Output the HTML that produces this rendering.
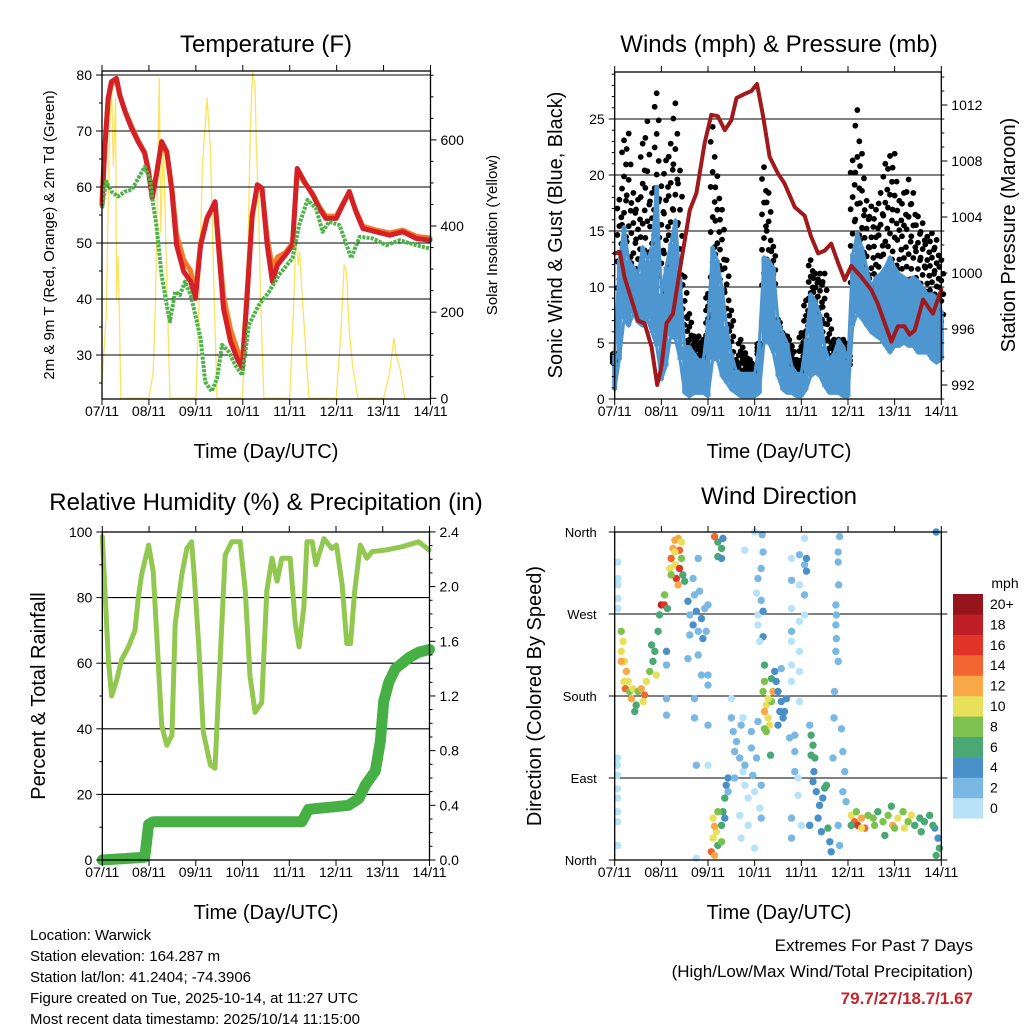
<!DOCTYPE html>
<html><head><meta charset="utf-8"><style>
body{margin:0;background:#fff}svg{display:block;font-family:"Liberation Sans",sans-serif}
</style></head><body>
<svg id="s" width="1024" height="1024" viewBox="0 0 1024 1024" xmlns="http://www.w3.org/2000/svg">
<g id="g"></g>
</svg>
<script>
// ---------- data ----------
const tempT=[0,.06,.13,.2,.31,.38,.49,.63,.77,.91,.99,1.07,1.16,1.27,1.38,1.49,1.59,1.74,1.89,1.99,2.1,2.24,2.41,2.49,2.59,2.74,2.88,2.99,3.09,3.2,3.31,3.41,3.52,3.63,3.74,3.91,4.06,4.16,4.31,4.49,4.63,4.77,4.99,5.13,5.27,5.41,5.56,5.84,6.13,6.41,6.7,6.99];
const temp2m=[56.8,66.9,75.8,78.8,79.4,76.4,73.5,70.5,68.1,66,62.7,58,62.1,68.1,66.3,59.2,49.6,44.9,43.1,40.1,49.6,54.4,57.4,48.5,38.3,32.4,29.4,27.6,40.1,55,60.4,59.8,49.6,43.1,46.1,47.9,49.6,63.3,61,58.6,56.2,54.4,54.4,56.8,59.2,55.6,52.6,52,51.4,52,50.8,50.5];
const temp9m=[57.5,67,75.5,78.3,79,76.4,73.6,70.8,68.3,66.2,63,58.5,62.3,67.8,66.2,59.8,51.5,47,45,41,50,54.6,57.2,49.5,40.5,34.5,31,28.5,41,54.8,60,59.6,51,45.5,47.5,48.3,50,62.8,60.8,58.8,56.5,54.8,54.8,57,59,55.8,53,52.3,51.8,52.3,51.2,50.9];
const dewT=[0,.09,.2,.34,.49,.63,.77,.91,1.02,1.09,1.16,1.27,1.38,1.45,1.56,1.66,1.77,1.89,1.99,2.1,2.2,2.34,2.45,2.56,2.7,2.84,2.99,3.13,3.34,3.56,3.77,4.06,4.2,4.38,4.56,4.7,4.84,5.06,5.31,5.49,5.77,6.06,6.34,6.7,6.99];
const dewPt=[56.2,61,59.2,58.3,59.2,59.5,61.5,63.6,61.5,56.8,53.2,44.3,38.9,36,41.3,40.7,43.1,40.7,37.1,33,25.2,23.5,25.8,31.8,30.6,28.2,26.4,35.4,38.9,41.3,44.3,47.3,53.2,57.7,56.2,52,53.8,53.2,47.3,51.1,50.8,49.6,50.5,49.6,49];
const solarT=[0,.09,.16,.2,.24,.29,.31,.34,.37,.4,.46,1.0,1.09,1.14,1.19,1.22,1.25,1.31,1.34,1.38,1.45,2.0,2.07,2.14,2.24,2.31,2.39,2.45,2.99,3.09,3.16,3.21,3.26,3.29,3.33,3.38,3.45,4.0,4.09,4.13,4.18,4.21,4.27,4.34,4.41,4.99,5.09,5.16,5.21,5.27,5.34,5.45,6.0,6.13,6.22,6.27,6.34,6.45];
const solar=[40,190,620,735,540,697,230,330,195,0,0,0,60,230,540,743,385,600,445,270,0,0,230,540,697,580,230,0,0,230,620,758,727,580,465,230,0,0,230,370,310,340,230,115,0,0,155,310,295,155,75,0,0,60,140,100,75,0];
const presT=[0,.11,.21,.36,.5,.64,.79,.91,1.0,1.11,1.25,1.43,1.61,1.75,1.93,2.07,2.21,2.36,2.5,2.61,2.79,2.93,3.05,3.18,3.32,3.5,3.64,3.86,4.07,4.21,4.36,4.5,4.64,4.79,4.93,5.07,5.29,5.5,5.64,5.79,5.93,6.07,6.21,6.32,6.43,6.61,6.82,7.0];
const pressure=[1001.4,1001.5,999.7,998.1,996.6,996.4,994.7,992,993.3,996.4,997.1,1000.9,1004.5,1005.7,1009.3,1011.3,1011.2,1010.2,1010.9,1012.5,1012.8,1013,1013.5,1011.2,1008.3,1007.1,1006.4,1004.7,1004.1,1002.6,1001.4,1001.6,1002.1,1000.7,999.5,1000.5,999.7,998.8,997.8,996.4,995.1,996.2,996.2,995.6,995.9,998.1,997.1,998.8];
const windLow=[0.8,3.5,7.1,6.5,7.6,6.8,6.5,7.1,5.9,4.7,1.7,2.9,5.6,5.3,3.5,0.5,0.2,0.5,0.5,0.5,0.2,3.5,3.5,2.0,1.4,0.8,0.5,0.2,0.2,0.2,0.2,0.5,5.0,5.0,4.1,2.0,0.8,0.5,0.5,0.2,0.2,0.8,2.0,2.3,2.0,1.1,0.5,0.5,0.5,0.2,0.2,6.5,7.6,7.1,6.5,5.9,5.6,5.3,4.7,4.1,4.7,4.7,5.0,4.7,4.7,4.1,4.1,4.1,3.5,3.2,3.5];
const windHigh=[4.1,12.4,15.4,12.4,11.8,11.2,13.6,12.4,13.6,19.0,9.4,11.8,13.9,16.0,10.9,4.7,4.7,4.1,3.5,3.5,7.1,13.6,12.4,10.0,6.5,4.1,2.6,2.3,2.3,2.3,2.3,5.0,12.7,12.4,11.8,7.1,5.9,5.0,2.9,2.3,2.3,5.3,9.4,8.8,7.6,4.7,3.5,4.1,5.3,4.7,3.5,13.0,14.8,13.6,11.8,10.0,10.9,11.2,11.8,12.7,11.8,11.2,10.9,10.6,10.9,10.6,10.0,9.4,9.4,9.1,7.9];
const gust=[4.1,17.8,23.1,23.7,18.4,17.8,22.8,24.8,18.4,27.3,19,21.3,22.8,26.4,20.4,10.9,7.6,5.6,5.6,5.3,9.4,24.3,19.9,16.9,12.4,7.9,3.5,5.3,4.1,3.5,2.9,5.0,20.7,18.4,13.6,7.1,5.9,5.6,4.7,3.5,5.9,8.8,12.4,11.2,11.2,11.2,7.1,5.3,5.3,5.3,4.1,21.3,25.8,21.9,17.7,17.2,16.9,18.4,21.0,21.7,21.9,17.7,18.4,19.6,18.4,16.3,15.7,14.5,14.8,14.2,12.4];
const rhT=[0,.13,.2,.31,.41,.56,.7,.77,.84,.99,1.09,1.16,1.27,1.38,1.49,1.56,1.7,1.81,1.91,1.97,2.06,2.16,2.31,2.41,2.52,2.63,2.77,2.95,3.06,3.16,3.27,3.41,3.52,3.63,3.74,3.84,4.02,4.13,4.21,4.31,4.38,4.49,4.57,4.74,4.91,5.01,5.13,5.23,5.31,5.4,5.52,5.66,5.77,6.06,6.41,6.77,6.99];
const rh=[98.6,61,50,55,61,65,70,80,87,96,88,70,41,35,38,72,87,95,97,86,66,39,29,28,61,93,97,97,82,56,45,48,82,92,85,92,92,72,65,77,97,97,90,98,95,96,84,66,66,82,96,92,94,94.5,95.5,97,94.5];
const precT=[0,.91,.99,1.09,4.27,4.41,5.27,5.49,5.63,5.84,5.95,6.02,6.13,6.27,6.56,6.77,7.0];
const precip=[0,0.02,0.26,0.28,0.28,0.37,0.40,0.45,0.55,0.65,0.87,1.16,1.30,1.40,1.48,1.52,1.54];
// wind direction points: [day, degrees, mph]
const dirPts=[[.07,327,1.5],[.07,309,1.5],[.07,302,1.5],[.07,287,1.5],[.07,276,1.5],[.06,112,1.5],[.06,104,1.5],[.06,93,1.5],[.06,78,1.5],[.06,68,1],[.06,53,1],[.06,42,1],[.06,16,1],
[.14,251,9],[.18,240,10],[.14,229,11],[.21,218,10],[.25,207,12],[.2,196,10],[.23,188,14],[.29,196,11],[.32,185,9],[.39,188,10],[.36,177,12],[.46,170,7],[.5,185,8],[.57,188,12],[.64,181,14],[.61,174,11],[.68,196,11],[.75,207,8],[.82,218,7],[.86,229,7],[.79,236,6],[.89,203,10],[.93,251,7],[.96,269,6],[1.0,280,18],[1.06,280,16],[1.07,291,8],[1.13,276,7],[1.11,229,4],[1.11,214,3],[1.11,177,3],[1.11,159,3],[.43,163,6],[.14,218,12],
[1.18,320,11],[1.21,331,14],[1.25,342,12],[1.29,351,13],[1.36,353,12],[1.39,340,14],[1.32,309,16],[1.29,324,10],[1.36,302,13],[1.43,331,8],[1.46,313,7],[1.5,306,6],[1.21,313,8],[1.39,320,16],[1.29,338,11],[1.43,349,10],
[1.57,284,4],[1.61,269,3],[1.68,258,4],[1.75,273,4],[1.79,251,3],[1.86,265,4],[1.89,243,4],[1.96,251,3],[1.93,276,2],[2.0,280,2],[1.82,295,2],[1.71,291,2],[1.61,247,3],[1.79,225,2],[1.68,309,3],[1.79,331,2],[2.0,203,2],[2.0,192,2],[1.71,177,2],[1.71,156,2],[1.75,104,2],[1.86,203,2],[1.57,221,2],[2.0,148,2],
[2.14,355,14],[2.21,349,6],[2.32,353,5],[2.29,342,7],[2.21,333,7],[2.29,331,4],
[2.07,9,14],[2.14,5,12],[2.11,24,10],[2.18,31,11],[2.11,46,10],[2.21,16,7],[2.29,38,7],[2.32,53,6],[2.36,68,6],[2.39,82,5],[2.43,90,4],[2.14,37,12],[2.29,20,8],[2.21,53,8],[2.36,46,4],
[2.5,156,3],[2.54,141,3],[2.57,119,2],[2.61,130,3],[2.68,112,2],[2.71,148,3],[2.75,97,1],[2.79,82,1],[2.86,68,1],[2.93,123,3],[2.96,93,2],[3.0,75,1],[3.04,112,2],[3.11,57,1],[3.14,82,2],[2.68,49,1],[2.71,24,1],[2.86,38,1],[3.0,13,1],[3.14,46,2],[2.57,90,3],[2.43,75,2],[2.79,104,3],[2.93,141,2],[3.07,152,2],[2.5,177,1],[1.75,2,1],[2.0,104,1],[2.75,156,1],
[3.0,360,1],[3.16,357,2],[3.14,320,3],[3.07,309,2],[3.04,293,1],[3.14,285,3],[3.07,269,1],[3.18,273,4],[3.07,258,1],[3.18,245,4],[2.79,340,1],[3.18,338,3],[3.11,240,1],
[3.21,214,7],[3.21,196,8],[3.18,185,8],[3.25,170,10],[3.21,163,12],[3.29,156,10],[3.36,174,9],[3.39,185,12],[3.32,148,10],[3.25,141,9],[3.36,199,7],[3.29,177,11],[3.34,115,6],[3.21,144,8],
[3.46,196,4],[3.5,185,4],[3.57,174,4],[3.64,163,4],[3.61,156,4],[3.54,163,4],[3.68,177,4],[3.43,207,4],[3.57,210,2],[3.5,148,4],
[3.79,331,1],[3.79,307,2],[3.79,276,1],[3.79,251,2],[3.79,240,1],[3.79,214,1],[3.79,196,1],[3.96,335,2],[3.96,302,1],[3.96,262,1],[3.96,229,1],[3.96,207,1],[3.96,174,1],[4.07,353,1],[4.07,324,2],[4.07,291,2],[4.07,269,1],[4.11,331,4],[4.11,317,4],[3.86,137,2],[3.86,119,2],[3.86,97,2],[3.93,90,1],[3.93,71,1],[3.79,46,2],[3.79,24,2],[4.0,38,1],[3.75,134,2],
[4.21,137,7],[4.25,126,6],[4.29,112,7],[4.21,115,6],[4.27,97,4],[4.18,148,2],
[4.25,86,4],[4.32,75,4],[4.39,60,4],[4.46,68,4],[4.5,79,6],[4.36,46,4],[4.18,38,4],[4.57,35,6],[4.61,20,4],[4.64,9,4],[4.54,82,6],[4.43,31,4],
[4.82,355,2],[4.79,338,3],[4.79,327,2],[4.8,302,3],[4.74,280,3],[4.75,269,3],[4.74,258,3],[4.75,243,2],[4.74,229,2],[4.79,218,2],[4.71,185,2],[4.7,156,2],[4.86,144,2],[4.89,119,3],[4.93,97,3],[4.89,75,2],[4.96,64,2],[4.79,38,2],[4.82,16,3],[4.68,112,2],
[5.07,49,10],[5.14,42,14],[5.21,38,16],[5.29,46,12],[5.18,53,8],[5.36,35,14],[5.43,49,8],[5.54,46,8],[5.64,53,7],[5.75,42,8],[5.86,49,9],[5.96,38,12],[6.07,46,10],[6.18,53,8],[6.29,42,9],[6.36,49,10],[6.43,38,7],[6.54,46,6],[6.64,42,7],[6.75,49,6],[6.86,35,5],[6.93,24,4],[6.96,13,6],[6.89,5,6],[5.29,35,10],[5.57,38,9],[6.0,35,9],[6.21,35,10],[5.79,27,7],[6.57,31,7],[6.82,38,6],[5.07,38,7],[5.93,59,7],
[6.89,360,4]];
const dayLabels=["07/11","08/11","09/11","10/11","11/11","12/11","13/11","14/11"];
const speedLabels=["0","2","4","6","8","10","12","14","16","18","20+"];
const speedColors=["#b8e2f8","#7ab8e4","#4a90c8","#4aa874","#7dc24e","#e8e05a","#f9a848","#f26430","#e03428","#be1e26","#96141c"];
// ---------- helpers ----------
const NS="http://www.w3.org/2000/svg";const G=document.getElementById('g');
function mk(tag,at,parent){const e=document.createElementNS(NS,tag);for(const k in at)e.setAttribute(k,at[k]);(parent||G).appendChild(e);return e;}
function txt(s,x,y,size,anchor,extra){const e=mk('text',Object.assign({x:x,y:y,'font-size':size,'text-anchor':anchor||'middle',fill:'#000'},extra||{}));e.textContent=s;return e;}
function poly(xs,ys,fx,fy,at,name){const d=xs.map((t,i)=>(i?'L':'M')+fx(t).toFixed(1)+' '+fy(ys[i]).toFixed(1)).join('');const p=mk('path',Object.assign({d:d,fill:'none','stroke-linejoin':'round','stroke-linecap':'round'},at));

return p;}
function xAxis(x0,x1,yb,yt){const dw=(x1-x0)/7;
 for(let i=0;i<=7;i++){const x=x0+i*dw;mk('line',{x1:x,y1:yb,x2:x,y2:yb+6,stroke:'#000'});mk('line',{x1:x,y1:yt,x2:x,y2:yt-6,stroke:'#000'});
  const l=txt(dayLabels[i],x,yb+17,14);
  
  }}
function frame(x0,y0,x1,y1,name){const r=mk('rect',{x:x0,y:y0,width:x1-x0,height:y1-y0,fill:'none',stroke:'#000','stroke-width':1.3});
 
 }
function grid(x0,x1,y){mk('line',{x1:x0,y1:y,x2:x1,y2:y,stroke:'#000','stroke-width':1.1});}
function leftTicks(x0,vals,fy,labels,minor){vals.forEach((v,i)=>{const y=fy(v);mk('line',{x1:x0,y1:y,x2:x0-6,y2:y,stroke:'#000'});if(labels){const l=txt(labels[i],x0-10,y+5,14,'end');
 
 }});
 (minor||[]).forEach(v=>{const y=fy(v);mk('line',{x1:x0,y1:y,x2:x0-3,y2:y,stroke:'#000'});});}
function rightTicks(x1,vals,fy,labels,minor){vals.forEach((v,i)=>{const y=fy(v);mk('line',{x1:x1,y1:y,x2:x1+6,y2:y,stroke:'#000'});const l=txt(labels[i],x1+10,y+5,14,'start');
 
 });
 (minor||[]).forEach(v=>{const y=fy(v);mk('line',{x1:x1,y1:y,x2:x1+3,y2:y,stroke:'#000'});});}
function range(a,b,s){const r=[];for(let v=a;v<=b+1e-9;v+=s)r.push(+v.toFixed(3));return r;}
function vtitle(s,x,y,size,name){const t=txt(s,x,y,size,'middle',{transform:'rotate(-90 '+x+' '+y+')'});
 
 }
function title(s,x,y,size,name){const t=txt(s,x,y,size);
 
 }

// ---------- Panel 1: Temperature ----------
{const x0=102,x1=430.5,yt=71,yb=399;const X=t=>x0+t*(x1-x0)/7;const YT=v=>75+(80-v)*5.6;const YS=s=>398.3-s*0.4307;
 poly(solarT,solar,X,YS,{stroke:'#fde25e','stroke-width':1.3},'solar-line');
 [30,40,50,60,70,80].forEach(v=>grid(x0,x1,YT(v)));
 poly(tempT,temp9m,X,YT,{stroke:'#f47a28','stroke-width':5},'temp-9m-line');
 poly(tempT,temp2m,X,YT,{stroke:'#d42027','stroke-width':5},'temp-2m-line');
 poly(dewT,dewPt,X,YT,{stroke:'#4bb447','stroke-width':4,'stroke-dasharray':'3 1.2','stroke-linecap':'butt'},'dewpoint-line');
 frame(x0,yt,x1,yb,'temperature-plot-frame');
 leftTicks(x0,[30,40,50,60,70,80],YT,['30','40','50','60','70','80'],[25,35,45,55,65,75]);
 rightTicks(x1,[0,200,400,600],YS,['0','200','400','600'],[50,100,150,250,300,350,450,500,550,650,700,750]);
 xAxis(x0,x1,yb,yt);
 title('Temperature (F)',266,52,24,'temperature-title');
 title('Time (Day/UTC)',266,458,20,'temperature-x-title');
 vtitle('2m & 9m T (Red, Orange) & 2m Td (Green)',54,235,15,'temperature-y-title');
 vtitle('Solar Insolation (Yellow)',497,235,15,'solar-y-title');}

// ---------- Panel 2: Winds ----------
{const x0=614.7,x1=941.3,yt=72,yb=399;const X=t=>x0+t*(x1-x0)/7;const YV=v=>399-v*11.2;const YP=p=>385-(p-992)*14;
 [5,10,15,20,25].forEach(v=>grid(x0,x1,YV(v)));
 gust.forEach((g,i)=>{const x=X(i*0.1);const lo=windHigh[i]*0.8;
  [0,0.1,0.2,0.3,0.4,0.5,0.6,0.7,0.8,0.9,1].forEach((f,k)=>{const c=mk('circle',{cx:x+(k%3-1)*2,cy:YV(lo+(g-lo)*f),r:2.9,fill:'#000'});
   
   });});
 const tIdx=windLow.map((v,i)=>i*0.1);
 poly(tIdx,windHigh,X,YV,{stroke:'#4e96d0','stroke-width':3},'wind-high-line');
 poly(tIdx,windLow,X,YV,{stroke:'#4e96d0','stroke-width':3},'wind-low-line');
 windLow.forEach((v,i)=>{const x=X(i*0.1);const l=mk('line',{x1:x,y1:YV(v),x2:x,y2:YV(windHigh[i]),stroke:'#4e96d0','stroke-width':5});
  
  });
 poly(presT,pressure,X,YP,{stroke:'#a01a1d','stroke-width':4},'pressure-line');
 frame(x0,yt,x1,yb,'winds-plot-frame');
 leftTicks(x0,[0,5,10,15,20,25],YV,['0','5','10','15','20','25'],range(1,29,1).filter(v=>v%5));
 rightTicks(x1,[992,996,1000,1004,1008,1012],YP,['992','996','1000','1004','1008','1012'],range(991,1014,1).filter(v=>v%4));
 xAxis(x0,x1,yb,yt);
 title('Winds (mph) & Pressure (mb)',779,52,24,'winds-title');
 title('Time (Day/UTC)',779,458,20,'winds-x-title');
 vtitle('Sonic Wind & Gust (Blue, Black)',562,235,20,'wind-y-title');
 vtitle('Station Pressure (Maroon)',1015,235,20,'pressure-y-title');}

// ---------- Panel 3: RH & Precip ----------
{const x0=102.3,x1=429.5,yt=532,yb=860;const X=t=>x0+t*(x1-x0)/7;const YR=v=>860-v*3.28;const YI=v=>860-v*136.7;
 [20,40,60,80].forEach(v=>grid(x0,x1,YR(v)));
 poly(rhT,rh,X,YR,{stroke:'#92c84f','stroke-width':5},'rh-line');
 poly(precT,precip,X,YI,{stroke:'#47b045','stroke-width':11},'precip-line');
 frame(x0,yt,x1,yb,'rh-plot-frame');
 leftTicks(x0,[0,20,40,60,80,100],YR,['0','20','40','60','80','100'],[10,30,50,70,90]);
 rightTicks(x1,[0,.4,.8,1.2,1.6,2.0,2.4],YI,['0.0','0.4','0.8','1.2','1.6','2.0','2.4'],range(.1,2.3,.1).filter((v,i)=>(i+1)%4));
 xAxis(x0,x1,yb,yt);
 title('Relative Humidity (%) & Precipitation (in)',266,510,24,'rh-title');
 title('Time (Day/UTC)',266,919,20,'rh-x-title');
 vtitle('Percent & Total Rainfall',45,696,20,'rh-y-title');}

// ---------- Panel 4: Wind direction ----------
{const x0=614.7,x1=941.3,yt=532,yb=860;const X=t=>x0+t*(x1-x0)/7;const YD=d=>860-d*0.9111;
 [90,180,270].forEach(v=>grid(x0,x1,YD(v)));
 dirPts.forEach(p=>{const b=Math.min(10,Math.floor(p[2]/2));const c=mk('circle',{cx:X(p[0]),cy:YD(p[1]),r:3.7,fill:speedColors[b]});
  
  });
 frame(x0,yt,x1,yb,'direction-plot-frame');
 const dl=['North','East','South','West','North'];
 [0,90,180,270,360].forEach((v,i)=>{const y=YD(v);mk('line',{x1:x0,y1:y,x2:x0-6,y2:y,stroke:'#000'});mk('line',{x1:x1,y1:y,x2:x1+6,y2:y,stroke:'#000'});const l=txt(dl[i],x0-18,y+5,13,'end');
  
  });
 xAxis(x0,x1,yb,yt);
 title('Wind Direction',779,504,24,'direction-title');
 title('Time (Day/UTC)',779,919,20,'direction-x-title');
 vtitle('Direction (Colored By Speed)',541,696,20,'direction-y-title');
 const cb=mk('g',{});
 speedColors.forEach((c,i)=>{const y=594+(10-i)*20.4;const r=mk('rect',{x:953,y:y,width:30,height:20.6,fill:c},cb);
  
  
  const l=txt(speedLabels[i],990,y+15,14,'start');
  
  });
 title('mph',1005,588,14,'colorbar-unit');}

// ---------- footer ----------
const info=['Location: Warwick','Station elevation: 164.287 m','Station lat/lon: 41.2404; -74.3906','Figure created on Tue, 2025-10-14, at 11:27 UTC','Most recent data timestamp: 2025/10/14 11:15:00'];
info.forEach((s,i)=>{const t=txt(s,30,940+i*21,15,'start');
 
 });
{let t=txt('Extremes For Past 7 Days',973,951,17,'end');
 t=txt('(High/Low/Max Wind/Total Precipitation)',973,977,17,'end');
 t=txt('79.7/27/18.7/1.67',973,1004,17,'end',{'font-weight':'bold',fill:'#c4262e'});}
</script>
</body></html>
